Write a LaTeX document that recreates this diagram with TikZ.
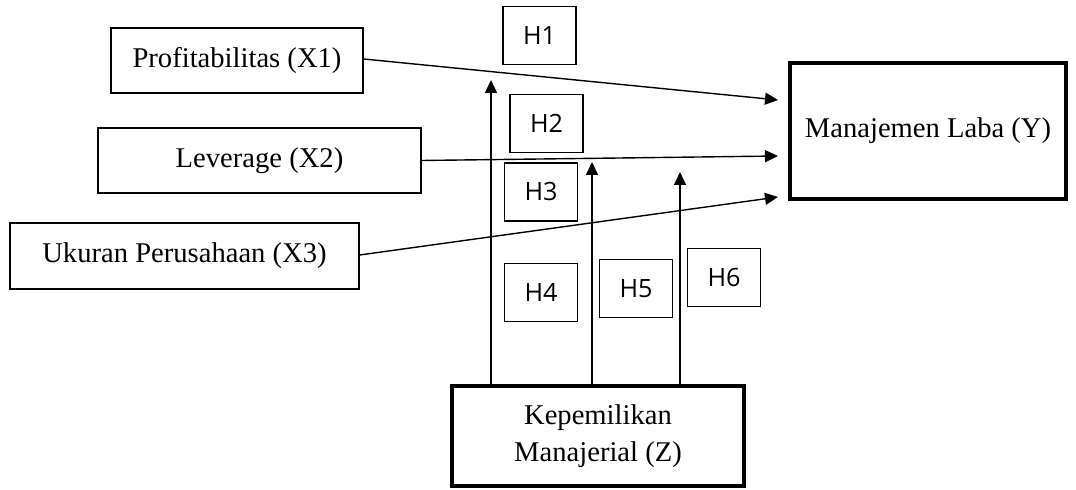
\documentclass[tikz,border=0pt]{standalone}
\usepackage{fontspec}
\setmainfont{Liberation Serif}
\newfontfamily\hfont{Open Sans}
\usetikzlibrary{arrows.meta}
\begin{document}
\begin{tikzpicture}[x=0.5pt,y=-0.5pt,
  varbox/.style={draw,line width=0.7pt,inner sep=0pt,font=\fontsize{14.3}{18.5}\selectfont,align=center},
  thickbox/.style={varbox,line width=2.2pt},
  hbox/.style={draw,line width=0.7pt,inner sep=0pt,minimum width=36.5pt,minimum height=29pt,font=\hfont\fontsize{12.6}{14}\selectfont},
  conn/.style={line width=0.7pt,-{Triangle[length=6.5pt,width=6pt]}}]
\useasboundingbox (0,0) rectangle (1076,490);
\node[varbox,minimum width=126pt,minimum height=32.5pt] (x1) at (237,60.5) {Profitabilitas (X1)};
\node[varbox,minimum width=161.5pt,minimum height=32.5pt] (x2) at (259.5,160.5) {Leverage (X2)};
\node[varbox,minimum width=174.5pt,minimum height=33pt] (x3) at (184.5,256) {Ukuran Perusahaan (X3)};
\node[thickbox,minimum width=138pt,minimum height=68pt] (y) at (928,131) {Manajemen Laba (Y)};
\node[thickbox,minimum width=146pt,minimum height=50pt] (z) at (598,436) {Kepemilikan\\Manajerial (Z)};
\node[hbox] (h1) at (539.5,35.5) {H1};
\node[hbox] (h2) at (546.5,123.5) {H2};
\node[hbox] (h3) at (541,192) {H3};
\node[hbox] (h4) at (541,292.5) {H4};
\node[hbox] (h5) at (636,288.5) {H5};
\node[hbox] (h6) at (724,277.5) {H6};
\coordinate (e1) at (778,100);
\coordinate (e2) at (778,156);
\coordinate (e3) at (778,197);
\coordinate (v1) at (491,80);
\coordinate (v2) at (592,162);
\coordinate (v3) at (680,172);
\draw[conn] (x1.east |- 0,59) -- (e1);
\draw[conn] (x2.east) -- (e2);
\draw[conn] (x3.east |- 0,255) -- (e3);
\draw[conn] (z.north -| v1) -- (v1);
\draw[conn] (z.north -| v2) -- (v2);
\draw[conn] (z.north -| v3) -- (v3);
\end{tikzpicture}
\end{document}
